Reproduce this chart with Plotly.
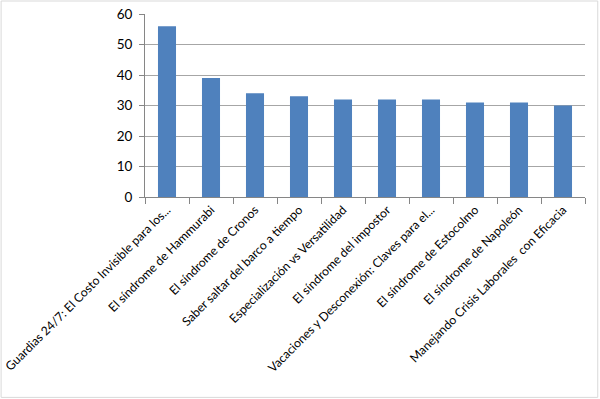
import plotly.graph_objects as go

categories = [
    "Guardias 24/7: El Costo Invisible para los...",
    "El síndrome de Hammurabi",
    "El síndrome de Cronos",
    "Saber saltar del barco a tiempo",
    "Especialización vs Versatilidad",
    "El síndrome del impostor",
    "Vacaciones y Desconexión: Claves para el...",
    "El síndrome de Estocolmo",
    "El síndrome de Napoleón",
    "Manejando Crisis Laborales  con Eficacia",
]
values = [56, 39, 34, 33, 32, 32, 32, 31, 31, 30]
y_ticks = [0, 10, 20, 30, 40, 50, 60]

fig = go.Figure(go.Bar(x=categories, y=values, marker_color="#4F81BD",
                       marker_line_width=0, hoverinfo="skip"))

fig.update_layout(
    width=600, height=399,
    margin=dict(l=145, r=15, t=14, b=202),
    paper_bgcolor="white", plot_bgcolor="white",
    bargap=0.59,
    showlegend=False,
    font=dict(family="Lato", size=13, color="#000000"),
)
fig.update_xaxes(
    type="category", tickangle=-45, tickson="boundaries",
    ticks="outside", ticklen=6, tickcolor="#868686",
    showline=True, linecolor="#868686", linewidth=1,
    showgrid=False, tickfont=dict(size=12.2), automargin=False,
)
fig.update_yaxes(
    range=[0, 60], tickvals=y_ticks, ticks="outside", ticklen=5,
    tickcolor="#868686", showline=True, linecolor="#868686",
    gridcolor="#A6A6A6", gridwidth=1, zeroline=False,
    tickfont=dict(size=13.5), ticklabelstandoff=4, automargin=False,
)
fig.add_shape(type="rect", xref="paper", yref="paper", x0=-0.327, x1=1.029,
              y0=-1.095, y1=1.071, line=dict(color="#D9D9D9", width=1))
fig.write_html("out.html", config={"displayModeBar": False},
               post_script="document.body.style.margin='0';document.body.style.padding='0';")
